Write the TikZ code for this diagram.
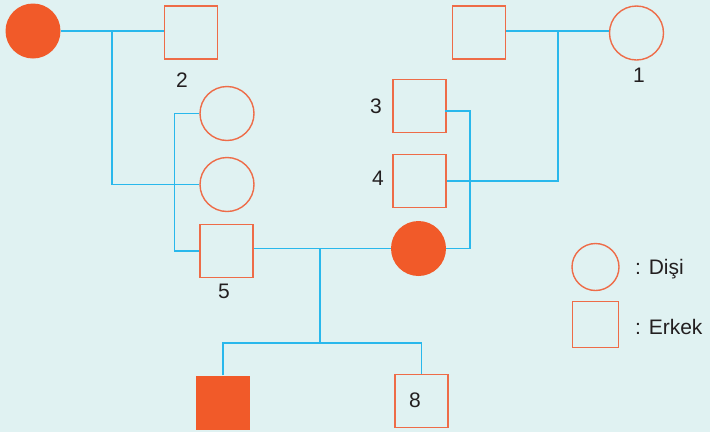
\documentclass[tikz,border=0pt]{standalone}
\usepackage{fontspec}
\setmainfont{Liberation Sans}
\definecolor{bg}{HTML}{E0F2F2}
\definecolor{org}{HTML}{F15A29}
\definecolor{orgline}{HTML}{EE6C48}
\definecolor{blu}{HTML}{29B8EC}
\definecolor{txt}{HTML}{231F20}
\tikzset{
  male/.style={draw=orgline, line width=1.7pt, minimum size=53pt, inner sep=0pt, rectangle},
  female/.style={draw=orgline, line width=1.4pt, minimum size=54pt, inner sep=0pt, circle},
  fmale/.style={fill=org, draw=none, minimum size=54pt, inner sep=0pt, rectangle},
  ffemale/.style={fill=org, draw=none, minimum size=55pt, inner sep=0pt, circle},
  link/.style={draw=blu, line width=1.9pt},
  lbl/.style={text=txt, font=\fontsize{21}{23}\selectfont, inner sep=0pt}
}
\begin{document}
\begin{tikzpicture}[x=1pt,y=-1pt]
\fill[bg] (0,0) rectangle (710,432);
\useasboundingbox (0,0) rectangle (710,432);
% nodes
\node[ffemale] (gm1) at (33,31) {};
\node[male] (gf1) at (191,32.5) {};
\node[male] (gf2) at (479,32.5) {};
\node[female] (gm2) at (636.5,33) {};
\node[female] (d1) at (227,113.5) {};
\node[female] (d2) at (227,184.5) {};
\node[male] (s5) at (226.5,251) {};
\node[male] (s3) at (419.5,106) {};
\node[male] (s4) at (419.5,181) {};
\node[ffemale] (m) at (418.5,248.5) {};
\node[fmale] (c1) at (223,402.5) {};
\node[male] (c8) at (421.5,401) {};
% legend
\node[female, minimum size=47pt] (lf) at (595.5,267) {};
\node[male, minimum size=46pt] (lm) at (595.5,324.5) {};
\node[lbl, anchor=west] (lft) at (635,269) {: Dişi};
\node[lbl, anchor=west] (lmt) at (635,327) {: Erkek};
% labels
\node[lbl] (l2) at (182,80) {2};
\node[lbl] (l1) at (639,75) {1};
\node[lbl] (l3) at (376,106) {3};
\node[lbl] (l4) at (378,178.5) {4};
\node[lbl] (l5) at (224,291) {5};
\node[lbl] (l8) at (415,400) {8};
% connections
\coordinate (j1) at (112,31);
\coordinate (j2) at (558,31);
\coordinate (j3) at (320,248.5);
\coordinate (j4) at (320,343);
\draw[link] (gm1.east) -- (gm1.east -| gf1.west);
\draw[link] (j1) |- (d2.west);
\draw[link] (gf2.east |- j2) -- (gm2.west |- j2);
\draw[link] (j2) |- (s4.east);
\draw[link] (d1.west) -- (174.5,113.5) |- (s5.west);
\draw[link] (s3.east) ++(-2,5) -- (470,111) |- (m.east);
\draw[link] (s5.east |- m.west) -- (m.west);
\draw[link] (j3) -- (j4);
\draw[link] (c1.north) |- (j4) -| (c8.north);
\end{tikzpicture}
\end{document}
